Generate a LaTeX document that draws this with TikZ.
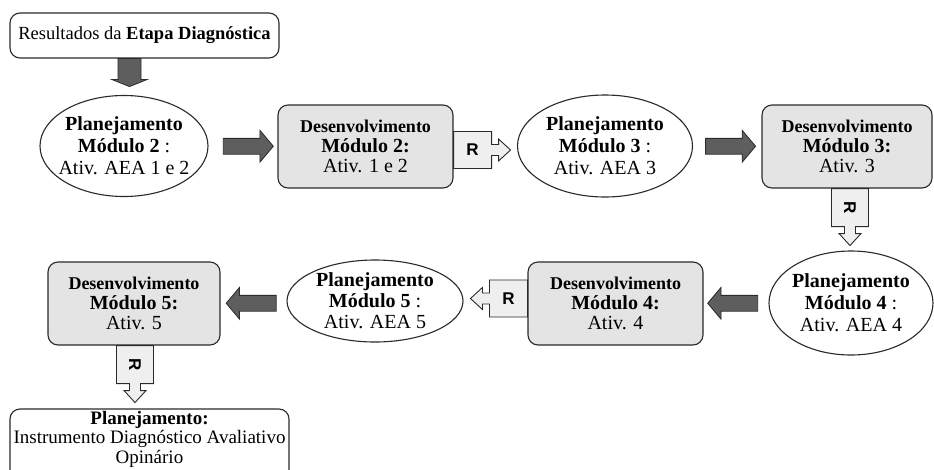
\documentclass[tikz,border=0pt]{standalone}
\usepackage{fontspec}
\setmainfont{Liberation Serif}
\newfontfamily\rfont{Liberation Sans}
\usetikzlibrary{shapes.geometric,shapes.arrows,calc}

\definecolor{boxgray}{HTML}{E4E4E4}
\definecolor{calloutgray}{HTML}{EFEFEF}
\definecolor{arrowdark}{HTML}{5E5E5E}
\definecolor{edge}{HTML}{2A2A2A}

\newcommand{\devline}{{\fontsize{18}{20}\selectfont\bfseries Desenvolvimento}}

\tikzset{
  stage/.style={draw=edge, line width=1.1pt, rounded corners=10pt, fill=boxgray,
    minimum height=83pt, inner sep=0pt, align=center,
    font=\fontsize{20}{20}\selectfont},
  plainbox/.style={draw=edge, line width=1.1pt, rounded corners=10pt, fill=white,
    inner sep=0pt, align=center},
  oval/.style={ellipse, draw=edge, line width=1.1pt, fill=white, inner sep=0pt},
  ovaltext/.style={align=center, inner sep=0pt, font=\fontsize{20}{22}\selectfont},
  fat/.style={single arrow, draw=edge, fill=arrowdark, line width=0.8pt,
    inner xsep=0pt, inner ysep=7.5pt, single arrow head extend=8pt,
    single arrow tip angle=100, minimum height=50pt},
  fatpoly/.style={draw=edge, fill=arrowdark, line width=0.8pt},
  callout/.style={draw=edge, line width=0.9pt, fill=calloutgray},
  rlabel/.style={inner sep=0pt, font=\rfont\bfseries\fontsize{17}{17}\selectfont},
  pics/rcall/.style={code={
    \draw[callout] (0,-18.5) -- (38,-18.5) -- (38,-5.5) -- (45,-5.5) -- (45,-11)
      -- (57,0) -- (45,11) -- (45,5.5) -- (38,5.5) -- (38,18.5) -- (0,18.5) -- cycle;
    \node[rlabel, rotate=#1] at (19,0) {R};
  }}
}

\begin{document}
\begin{tikzpicture}[x=1pt, y=-1pt]
  \useasboundingbox (0,0) rectangle (934,469);
  \fill[white] (0,0) rectangle (934,469);
  \clip (0,0) rectangle (934,469);

  % starting point
  \node[plainbox, minimum width=269pt, minimum height=45pt,
        font=\fontsize{18.5}{20}\selectfont] (top) at (144.5,35.5)
        {Resultados da \textbf{Etapa Diagnóstica}};

  % first row
  \node[oval, minimum width=168pt, minimum height=101pt] (e1) at (124,146) {};
  \node[ovaltext] (t1) at (e1.center) {\textbf{Planejamento}\\\textbf{Módulo 2} :\\Ativ. AEA 1 e 2};

  \node[stage, minimum width=175pt] (d2) at (365.5,146.5)
        {\devline\\\textbf{Módulo 2:}\\Ativ. 1 e 2};

  \node[oval, minimum width=175pt, minimum height=102pt] (e2) at (605,146) {};
  \node[ovaltext] (t2) at (e2.center) {\textbf{Planejamento}\\\textbf{Módulo 3} :\\Ativ. AEA 3};

  \node[stage, minimum width=170pt] (d3) at (847,146.5)
        {\devline\\\textbf{Módulo 3:}\\Ativ. 3};

  % second row
  \node[oval, minimum width=164pt, minimum height=104pt] (e4) at (851,303) {};
  \node[ovaltext] (t4) at (e4.center) {\textbf{Planejamento}\\\textbf{Módulo 4} :\\Ativ. AEA 4};

  \node[stage, minimum width=175pt] (d4) at (615.5,303.5)
        {\devline\\\textbf{Módulo 4:}\\Ativ. 4};

  \node[oval, minimum width=176pt, minimum height=82pt] (e5) at (375,301) {};
  \node[ovaltext, font=\fontsize{20}{21}\selectfont] (t5) at (e5.center)
        {\textbf{Planejamento}\\\textbf{Módulo 5} :\\Ativ. AEA 5};

  \node[stage, minimum width=172pt] (d5) at (134,303.5)
        {\devline\\\textbf{Módulo 5:}\\Ativ. 5};

  % closing step, running past the lower edge
  \node[plainbox, minimum width=279pt, minimum height=74pt] (bot) at (149.5,446) {};
  \node[align=center, inner sep=0pt, font=\fontsize{19}{19.5}\selectfont] (bt)
        at ($(bot.center)+(0,-7)$)
        {\textbf{Planejamento:}\\Instrumento Diagnóstico Avaliativo\\Opinário};

  % dark block arrows
  \coordinate (a0) at ($(top.south)+(-15,0)$);
  \draw[fatpoly, shift={(a0)}] (-11.5,0) -- (11.5,0) -- (11.5,21) -- (17.5,21)
        -- (0,28) -- (-17.5,21) -- (-11.5,21) -- cycle;
  \node[fat] (a1) at ($(e1.east)!0.5!(d2.west)+(2,0)$) {};
  \node[fat] (a2) at ($(e2.east)!0.5!(d3.west)$) {};
  \node[fat, shape border rotate=180] (a3) at ($(e4.west)!0.5!(d4.east)$) {};
  \node[fat, shape border rotate=180] (a4) at ($(e5.west)!0.5!(d5.east)+(1,1)$) {};

  % R callouts
  \pic at ($(d2.east)+(0,3.5)$) {rcall=0};
  \pic[rotate=-90] at ($(d3.south)+(3,0)$) {rcall=-90};
  \pic[rotate=180] at ($(d4.west)+(0,-5)$) {rcall=0};
  \pic[rotate=-90] at ($(d5.south)+(1,0)$) {rcall=-90};
\end{tikzpicture}
\end{document}
